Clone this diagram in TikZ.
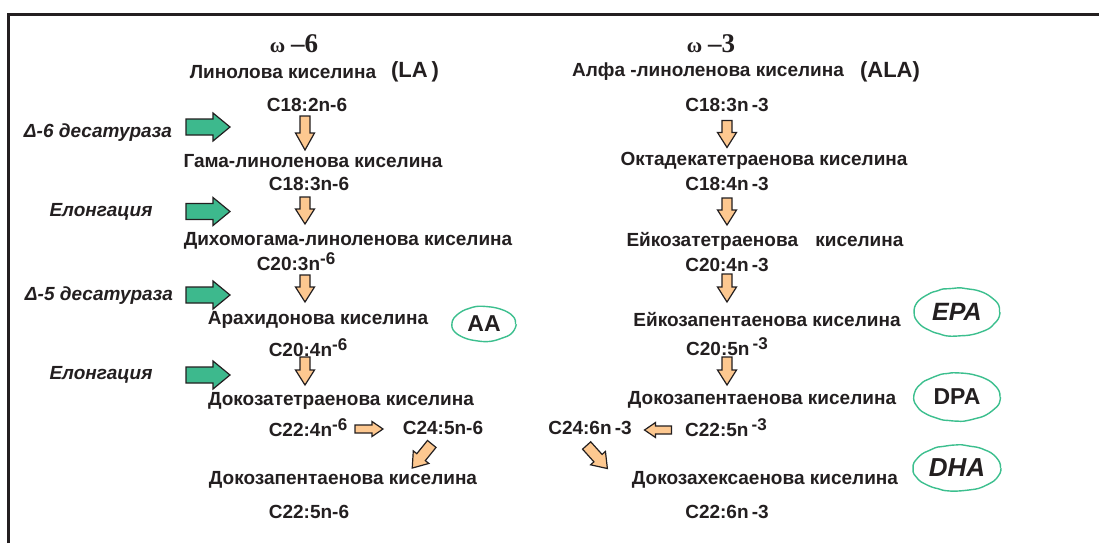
\documentclass[tikz,border=0pt]{standalone}
\usepackage{fontspec}
\setmainfont{Liberation Sans}
\newfontfamily\timesfont{Liberation Serif}
\usetikzlibrary{shapes.geometric,decorations.pathmorphing}
\definecolor{ink}{HTML}{231F20}
\definecolor{stepfill}{HTML}{FDC890}
\definecolor{enzfill}{HTML}{3DB98D}
\definecolor{tagline}{HTML}{3CBF8E}
\newcommand\raisedexp[1]{\raisebox{6pt}{\fontsize{17}{17}\selectfont #1}}
\tikzset{
  x=1pt, y=-1pt,
  txt/.style={inner sep=0pt, text=ink, font=\fontsize{19}{22}\selectfont\bfseries},
  enz/.style={txt, font=\fontsize{19}{22}\selectfont\bfseries\itshape},
  big/.style={inner sep=0pt, text=ink, font=\fontsize{22}{24}\selectfont\bfseries},
  omega/.style={inner sep=0pt, text=ink, font=\timesfont\bfseries},
  tag/.style={ellipse, draw=tagline, line width=1.4pt, text=ink, inner sep=0pt,
    decorate, decoration={random steps, segment length=5pt, amplitude=0.45pt},
    rounded corners=1.5pt},
  fat/.style={draw=ink, line width=1.2pt, line join=miter},
  stepar/.style={fat, fill=stepfill},
  enzar/.style={fat, fill=enzfill},
  % block arrow: length, shaft half-width, head half-width, head length
  pics/blockarrow/.style n args={4}{code={
    \path[pic actions] (-#1/2,-#2) -- (#1/2-#4,-#2) -- (#1/2-#4,-#3) -- (#1/2,0)
      -- (#1/2-#4,#3) -- (#1/2-#4,#2) -- (-#1/2,#2) -- cycle;}},
}
\begin{document}
\begin{tikzpicture}
\pgfmathsetseed{41}
\useasboundingbox (0,0) rectangle (1099,543);
\fill[white] (0,0) rectangle (1099,543);
% frame
\draw[ink, line width=2.2pt] (8.5,543) -- (8.5,14.5) -- (1099,14.5);

% ---------- omega-6 column ----------
\node[omega] (om6) at (294,44) {{\fontsize{21}{21}\selectfont ω}\hspace{6pt}{\fontsize{27}{27}\selectfont –6}};
\node[txt] (la) at (283,72) {Линолова киселина};
\node[big] (lat) at (415,72) {(LA\hspace{4pt})};
\node[txt] (c182) at (307,105) {C18:2n-6};
\node[enz] (d6) at (98,133) {Δ-6 десатураза};
\node[txt] (gla) at (313,161) {Гама-линоленова киселина};
\node[txt] (c183) at (309,184) {C18:3n-6};
\node[enz] (el1) at (101,212) {Елонгация};
\node[txt] (dgla) at (348,241) {Дихомогама-линоленова киселина};
\node[txt] (c203) at (296,262) {C20:3n\raisedexp{-6}};
\node[enz] (d5) at (99,296) {Δ-5 десатураза};
\node[txt] (ara) at (318,320) {Арахидонова киселина};
\node[txt] (c204) at (308,348) {C20:4n\raisedexp{-6}};
\node[enz] (el2) at (101,375) {Елонгация};
\node[txt] (dta) at (341,401) {Докозатетраенова киселина};
\node[txt] (c224) at (308,428) {C22:4n\raisedexp{-6}};
\node[txt] (c245) at (443,428) {C24:5n-6};
\node[txt] (dpa6) at (343,480) {Докозапентаенова киселина};
\node[txt] (c225) at (309,512) {C22:5n-6};
\node[tag, minimum width=63pt, minimum height=35pt, font=\fontsize{23}{23}\selectfont\bfseries] (aa) at (484,324) {AA};

% ---------- omega-3 column ----------
\node[omega] (om3) at (711,44) {{\fontsize{21}{21}\selectfont ω}\hspace{6pt}{\fontsize{27}{27}\selectfont –3}};
\node[txt] (ala) at (708,72) {Алфа -линоленова киселина};
\node[big] (alat) at (890,72) {(ALA)};
\node[txt] (c183b) at (727,105) {C18:3n\,-3};
\node[txt] (oda) at (764,161) {Октадекатетраенова киселина};
\node[txt] (c184) at (727,184) {C18:4n\,-3};
\node[txt] (eta) at (765,241) {Ейкозатетраенова\hspace{12pt} киселина};
\node[txt] (c204b) at (727,265) {C20:4n\,-3};
\node[txt] (epa) at (767,320) {Ейкозапентаенова киселина};
\node[txt] (c205) at (727,347) {C20:5n\,\raisedexp{-3}};
\node[txt] (dpa3) at (762,400) {Докозапентаенова киселина};
\node[txt] (c246) at (590,428) {C24:6n\,-3};
\node[txt] (c225b) at (726,428) {C22:5n\,\raisedexp{-3}};
\node[txt] (dha) at (765,480) {Докозахексаенова киселина};
\node[txt] (c226) at (727,512) {C22:6n\,-3};
\node[tag, minimum width=85pt, minimum height=48pt, font=\fontsize{25}{25}\selectfont\bfseries\itshape] (epatag) at (957,312) {EPA};
\node[tag, minimum width=86pt, minimum height=48pt, font=\fontsize{23}{23}\selectfont\bfseries] (dpatag) at (957,397) {DPA};
\node[tag, minimum width=87pt, minimum height=46pt, font=\fontsize{26}{26}\selectfont\bfseries\itshape] (dhatag) at (957,468) {DHA};

% ---------- enzyme arrows ----------
\foreach \yy in {127,211.5,295,375}
  \pic[enzar] at (208,\yy) {blockarrow={44}{8}{14}{17}};

% ---------- conversion arrows, omega-6 ----------
\pic[stepar, rotate=-90] at (305,133) {blockarrow={34}{5}{9.5}{17}};
\pic[stepar, rotate=-90] at (305,210.5) {blockarrow={27}{5}{9.5}{15}};
\pic[stepar, rotate=-90] at (305,288.5) {blockarrow={27}{5}{9.5}{15}};
\pic[stepar, rotate=-90] at (305,371) {blockarrow={28}{5}{9.5}{15}};
\pic[stepar] at (369,429) {blockarrow={28}{4}{7.5}{11}};
\pic[stepar, rotate=231] at (422,456) {blockarrow={31}{5.5}{10}{14}};

% ---------- conversion arrows, omega-3 ----------
\pic[stepar, rotate=-90] at (727,134) {blockarrow={27}{5}{9.5}{15}};
\pic[stepar, rotate=-90] at (727,211.5) {blockarrow={27}{5}{9.5}{15}};
\pic[stepar, rotate=-90] at (727,288) {blockarrow={28}{5}{9.5}{15}};
\pic[stepar, rotate=-90] at (727,371) {blockarrow={28}{5}{9.5}{15}};
\pic[stepar, rotate=180] at (658,430) {blockarrow={27}{4}{7.5}{11}};
\pic[stepar, rotate=-48] at (597,457) {blockarrow={31}{5.5}{10}{14}};
\end{tikzpicture}
\end{document}
